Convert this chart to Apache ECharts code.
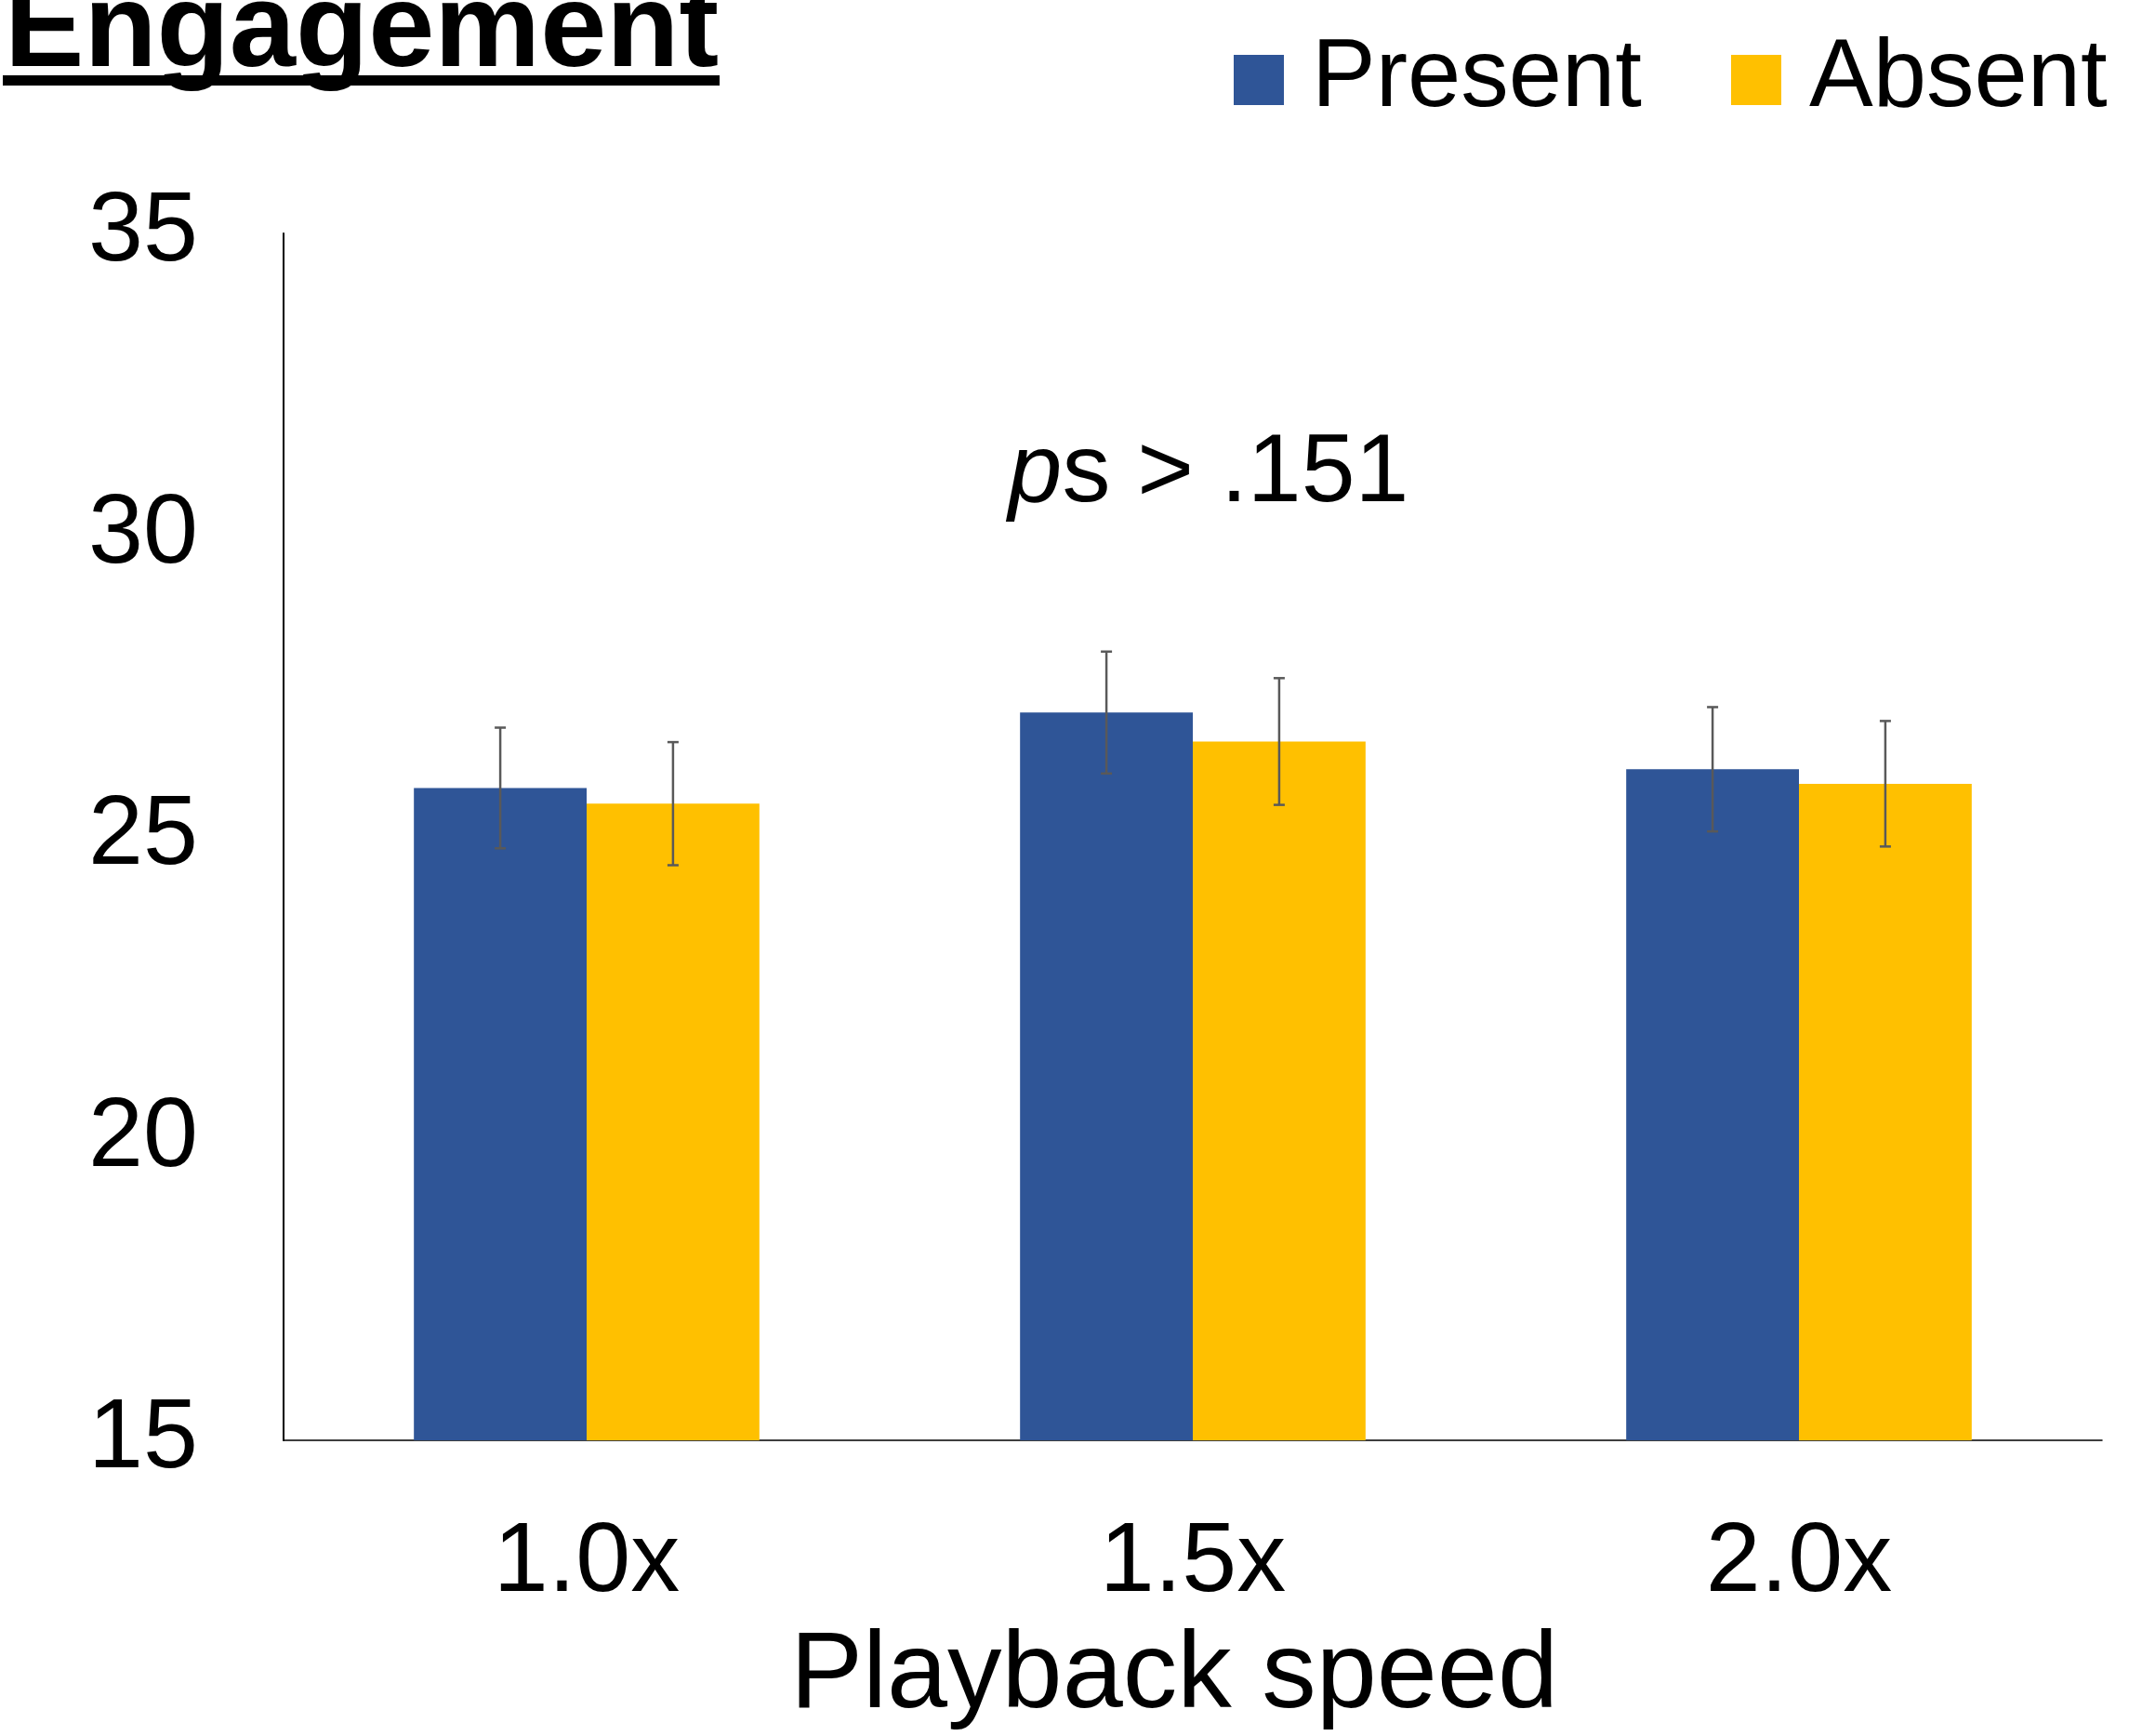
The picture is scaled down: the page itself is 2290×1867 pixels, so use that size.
<!DOCTYPE html>
<html>

<head>
	<meta charset="utf-8">
	<title>engagement by playback speed</title>
	<script src="https://cdn.jsdelivr.net/npm/echarts@6/dist/echarts.min.js"></script>
	<style>
		html, body { margin: 0; padding: 0; background: #fff; }
		#chart { width: 2290px; height: 1867px; }
	</style>
</head>

<body>
	<div id="chart"></div>
	<script>
		// values
		var categories = ['1.0x', '1.5x', '2.0x'];
		var present = [25.81, 27.06, 26.12];
		var absent = [25.55, 26.58, 25.88];
		var presentErr = [1.00, 1.01, 1.03];
		var absentErr = [1.02, 1.05, 1.04];
		var yTicks = [15, 20, 25, 30, 35];

		var FONT = '"Liberation Sans", Arial, sans-serif';
		var BAR_SHARE = 0.285; // each bar's share of the category band

		function errorItem(values, errs, side) {
			return function (params, api) {
				var i = api.value(0);
				var band = api.size([1, 0])[0];
				var off = side * band * BAR_SHARE / 2;
				var hi = api.coord([i, values[i] + errs[i]]);
				var lo = api.coord([i, values[i] - errs[i]]);
				var x = hi[0] + off;
				var cap = 6;
				var st = { stroke: '#595959', lineWidth: 2.5 };
				return {
					type: 'group',
					children: [
						{ type: 'line', shape: { x1: x, y1: hi[1], x2: x, y2: lo[1] }, style: st },
						{ type: 'line', shape: { x1: x - cap, y1: hi[1], x2: x + cap, y2: hi[1] }, style: st },
						{ type: 'line', shape: { x1: x - cap, y1: lo[1], x2: x + cap, y2: lo[1] }, style: st }
					]
				};
			};
		}

		var chart = echarts.init(document.getElementById('chart'));
		var option = {
			animation: false,
			textStyle: { fontFamily: FONT },
			grid: { left: 305, right: 29, top: 251, bottom: 316 },
			legend: {
				left: 1322,
				top: 26,
				itemWidth: 54,
				itemHeight: 54,
				itemGap: 96,
				icon: 'rect',
				data: ['Present', 'Absent'],
				textStyle: { fontSize: 103, color: '#000', lineHeight: 110, padding: [0, 0, 0, 25] }
			},
			xAxis: {
				type: 'category',
				data: categories,
				name: 'Playback speed',
				nameLocation: 'middle',
				nameGap: 196,
				nameTextStyle: { fontSize: 117, color: '#000', padding: [0, 40, 0, 0] },
				axisLine: { lineStyle: { color: '#000', width: 1.5 } },
				axisTick: { show: false },
				axisLabel: { fontSize: 106, color: '#000', margin: 80 }
			},
			yAxis: {
				type: 'value',
				min: yTicks[0],
				max: yTicks[yTicks.length - 1],
				interval: 5,
				splitLine: { show: false },
				axisLine: { show: true, lineStyle: { color: '#000', width: 2 } },
				axisTick: { show: false },
				axisLabel: { fontSize: 106, color: '#000', margin: 92 }
			},
			graphic: [
				{
					type: 'text',
					left: 5,
					top: -28,
					style: { text: 'Engagement', fontSize: 128, fontWeight: 'bold', fontFamily: FONT, fill: '#000' }
				},
				{
					type: 'rect',
					shape: { x: 3, y: 81, width: 771, height: 11 },
					style: { fill: '#000' }
				},
				{
					type: 'text',
					x: 1300,
					y: 510,
					style: {
						text: '{i|p}s > .151',
						align: 'center',
						verticalAlign: 'middle',
						fontSize: 104,
						fontFamily: FONT,
						fill: '#000',
						rich: { i: { fontStyle: 'italic', fontSize: 104, fontFamily: FONT } }
					}
				}
			],
			series: [
				{
					name: 'Present',
					type: 'bar',
					data: present,
					barGap: 0,
					barCategoryGap: '43%',
					itemStyle: { color: '#2F5597' }
				},
				{
					name: 'Absent',
					type: 'bar',
					data: absent,
					itemStyle: { color: '#FFC000' }
				},
				{
					type: 'custom',
					data: categories.map(function (c, i) { return [i]; }),
					renderItem: errorItem(present, presentErr, -1),
					z: 10
				},
				{
					type: 'custom',
					data: categories.map(function (c, i) { return [i]; }),
					renderItem: errorItem(absent, absentErr, 1),
					z: 10
				}
			]
		};
		chart.setOption(option);
	</script>
</body>

</html>
